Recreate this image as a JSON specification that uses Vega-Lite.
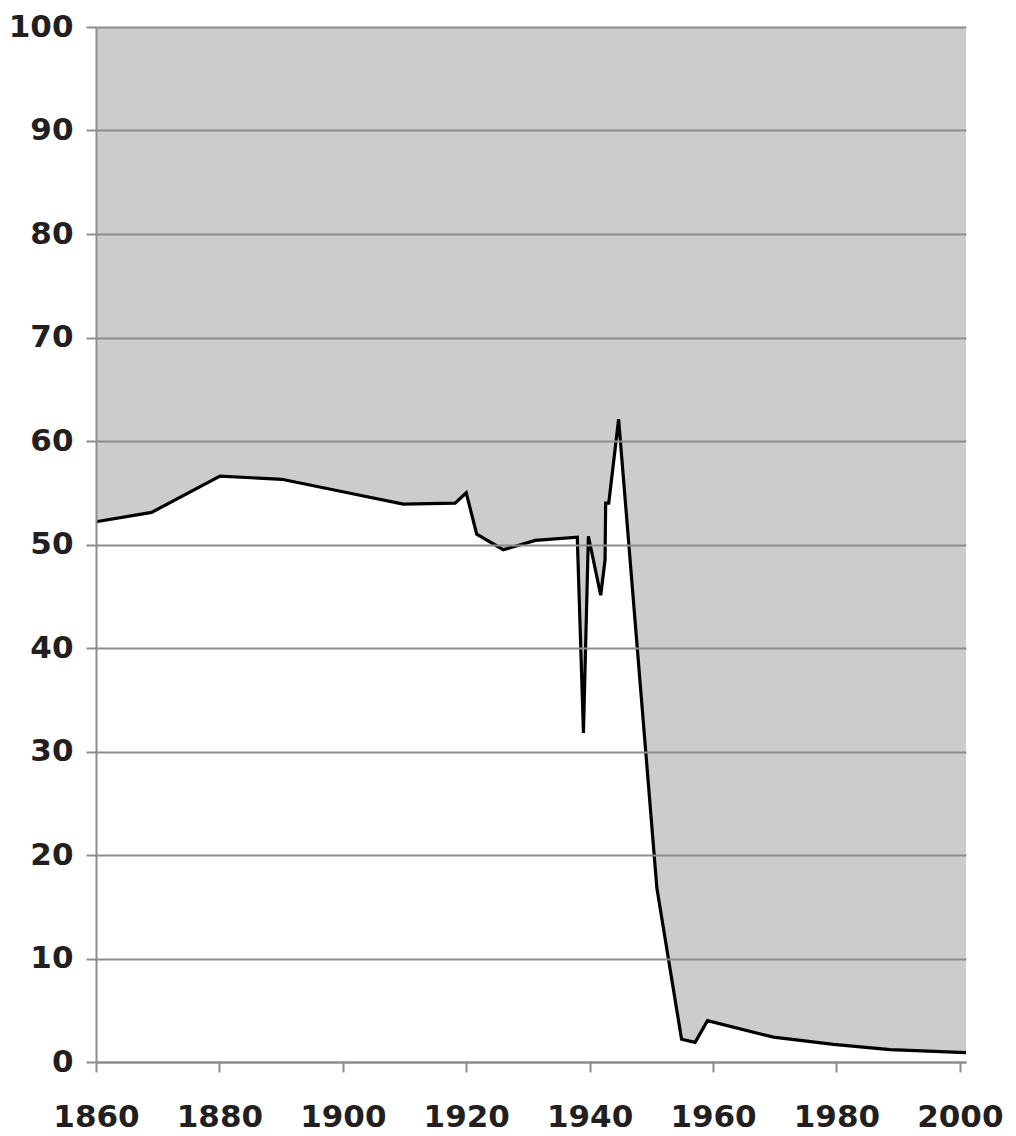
{
  "$schema": "https://vega.github.io/schema/vega-lite/v6.json",
  "width": 870,
  "height": 1035,
  "autosize": {"type": "none"},
  "padding": {"left": 96, "top": 27, "right": 50, "bottom": 74},
  "background": "white",
  "view": {"fill": "#cccccc", "stroke": null},
  "data": {
    "values": [
      {"year": 1860, "value": 52.2},
      {"year": 1869, "value": 53.1},
      {"year": 1880.1, "value": 56.6},
      {"year": 1890.1, "value": 56.3},
      {"year": 1900, "value": 55.1},
      {"year": 1909.8, "value": 53.9},
      {"year": 1918.2, "value": 54.0},
      {"year": 1920, "value": 55.0},
      {"year": 1921.7, "value": 51.0},
      {"year": 1926, "value": 49.5},
      {"year": 1931.2, "value": 50.4},
      {"year": 1938, "value": 50.7},
      {"year": 1939, "value": 31.8},
      {"year": 1939.8, "value": 50.8},
      {"year": 1941.8, "value": 45.1},
      {"year": 1942.5, "value": 48.5},
      {"year": 1942.6, "value": 54.0},
      {"year": 1943.1, "value": 54.0},
      {"year": 1944.7, "value": 62.1},
      {"year": 1950.9, "value": 16.8},
      {"year": 1954.9, "value": 2.2},
      {"year": 1957.1, "value": 1.9},
      {"year": 1959.1, "value": 4.0},
      {"year": 1969.8, "value": 2.4},
      {"year": 1979.5, "value": 1.7},
      {"year": 1988.7, "value": 1.2},
      {"year": 2001, "value": 0.9}
    ]
  },
  "encoding": {
    "x": {
      "field": "year",
      "type": "quantitative",
      "scale": {"domain": [1860, 2001], "nice": false, "zero": false},
      "axis": {
        "title": null,
        "values": [1860, 1880, 1900, 1920, 1940, 1960, 1980, 2000],
        "format": "d",
        "grid": false,
        "domainColor": "#8c8c8c",
        "domainWidth": 2,
        "tickColor": "#8c8c8c",
        "tickWidth": 2,
        "tickSize": 10,
        "labelFont": "DejaVu Sans",
        "labelFontWeight": "bold",
        "labelFontSize": 31,
        "labelColor": "#231f20",
        "labelPadding": 30,
        "labelFlush": false,
        "zindex": 1
      }
    },
    "y": {
      "field": "value",
      "type": "quantitative",
      "scale": {"domain": [0, 100], "nice": false},
      "axis": {
        "title": null,
        "values": [0, 10, 20, 30, 40, 50, 60, 70, 80, 90, 100],
        "grid": true,
        "gridColor": "#8c8c8c",
        "gridWidth": 2,
        "domainColor": "#8c8c8c",
        "domainWidth": 2,
        "tickColor": "#8c8c8c",
        "tickWidth": 2,
        "tickSize": 10,
        "labelFont": "DejaVu Sans",
        "labelFontWeight": "bold",
        "labelFontSize": 31,
        "labelColor": "#231f20",
        "labelPadding": 13,
        "labelFlush": false,
        "zindex": 1
      }
    }
  },
  "layer": [
    {"mark": {"type": "area", "color": "white", "opacity": 1}},
    {"mark": {"type": "line", "color": "black", "strokeWidth": 3.2, "strokeJoin": "miter"}}
  ]
}
